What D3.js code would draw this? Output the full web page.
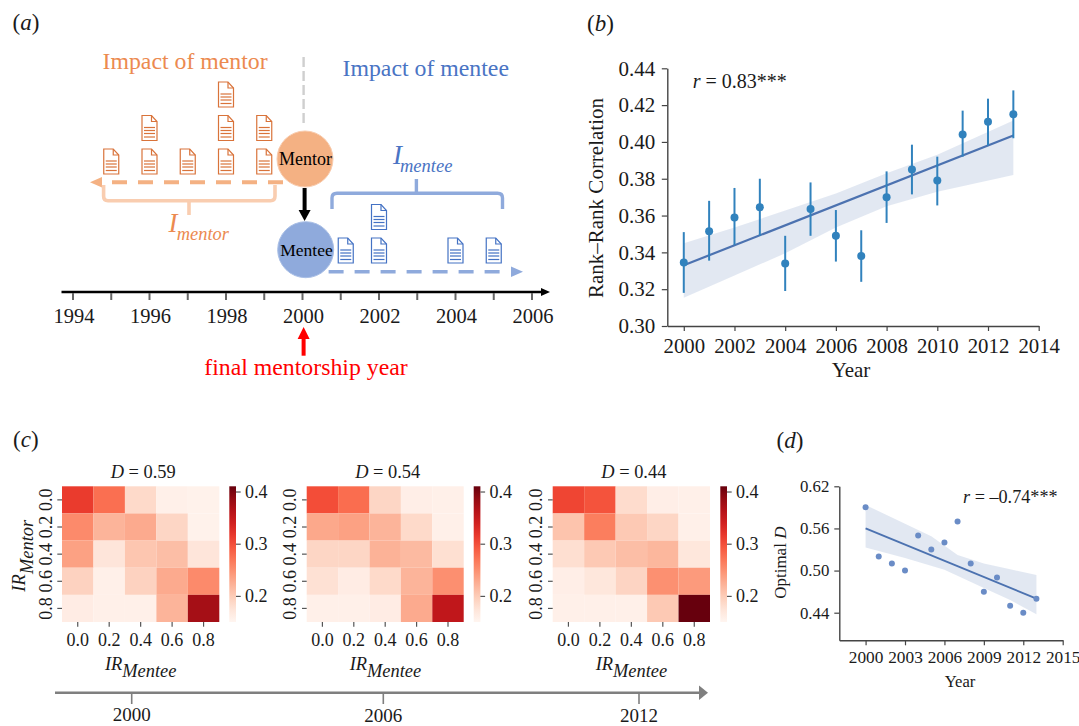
<!DOCTYPE html>
<html>
<head>
<meta charset="utf-8">
<script src="https://cdn.jsdelivr.net/npm/d3@7"></script>
<style>
  html, body { margin: 0; padding: 0; background: #fff; }
  svg { display: block; }
  text { font-family: "Liberation Serif", serif; fill: #1a1a1a; }
</style>
</head>
<body>
<svg id="chart" width="1079" height="726"></svg>
<script>
// Panel a
const timelineYears = d3.range(1994, 2007);
const timelineLabels = [1994, 1996, 1998, 2000, 2002, 2004, 2006];
const mentorPaperYears = [1995, 1996, 1997, 1998, 1999];
const mentorPaperCounts = [1, 2, 1, 3, 2];
const menteePaperYears = [2001, 2002, 2004, 2005];
const menteePaperCounts = [1, 2, 1, 1];

// Panel b
const yearsB = [2000, 2001, 2002, 2003, 2004, 2005, 2006, 2007, 2008, 2009, 2010, 2011, 2012, 2013];
const corrB = [0.3345, 0.3515, 0.359, 0.3645, 0.334, 0.3635, 0.349, 0.338, 0.37, 0.385, 0.379, 0.404, 0.411, 0.415];
const corrLowB = [0.318, 0.3355, 0.344, 0.349, 0.319, 0.349, 0.335, 0.324, 0.356, 0.3715, 0.3655, 0.392, 0.398, 0.402];
const corrHighB = [0.351, 0.368, 0.375, 0.38, 0.349, 0.378, 0.363, 0.352, 0.384, 0.3985, 0.392, 0.417, 0.4235, 0.428];
const fitYearsB = [2000, 2013];
const fitValuesB = [0.333, 0.4035];
const bandYearsB = [2000, 2002, 2004, 2006, 2008, 2010, 2013];
const bandHighB = [0.345, 0.3535, 0.3627, 0.372, 0.383, 0.393, 0.4116];
const bandLowB = [0.3154, 0.3275, 0.3395, 0.3535, 0.365, 0.373, 0.382];
const xTicksB = [2000, 2002, 2004, 2006, 2008, 2010, 2012, 2014];
const yTicksB = [0.30, 0.32, 0.34, 0.36, 0.38, 0.40, 0.42, 0.44];

// Panel c
const irLabels = ["0.0", "0.2", "0.4", "0.6", "0.8"];
const heatTitles = ["0.59", "0.54", "0.44"];
const heat2000 = [
  [0.314, 0.275, 0.186, 0.158, 0.155],
  [0.254, 0.220, 0.228, 0.190, 0.155],
  [0.236, 0.173, 0.205, 0.212, 0.173],
  [0.194, 0.158, 0.194, 0.228, 0.254],
  [0.163, 0.158, 0.158, 0.220, 0.375]
];
const heat2006 = [
  [0.300, 0.277, 0.190, 0.160, 0.158],
  [0.230, 0.236, 0.220, 0.186, 0.158],
  [0.190, 0.190, 0.222, 0.215, 0.180],
  [0.178, 0.163, 0.186, 0.220, 0.250],
  [0.158, 0.158, 0.163, 0.228, 0.354]
];
const heat2012 = [
  [0.306, 0.296, 0.184, 0.160, 0.158],
  [0.207, 0.264, 0.202, 0.190, 0.158],
  [0.181, 0.202, 0.212, 0.218, 0.171],
  [0.160, 0.171, 0.192, 0.249, 0.241],
  [0.158, 0.158, 0.158, 0.202, 0.410]
];
const colorTicks = [0.2, 0.3, 0.4];
const arrowYears = [2000, 2006, 2012];

// Panel d
const yearsD = [2000, 2001, 2002, 2003, 2004, 2005, 2006, 2007, 2008, 2009, 2010, 2011, 2012, 2013];
const optimalD = [0.59, 0.52, 0.51, 0.50, 0.55, 0.53, 0.54, 0.57, 0.51, 0.47, 0.49, 0.45, 0.44, 0.46];
const fitYearsD = [2000, 2013];
const fitValuesD = [0.56, 0.46];
const bandYearsHighD = [2000, 2005, 2007, 2009, 2011, 2013];
const bandHighD = [0.5934, 0.549, 0.522, 0.51, 0.502, 0.4937];
const bandYearsLowD = [2000, 2003, 2006, 2009, 2011, 2013];
const bandLowD = [0.533, 0.518, 0.501, 0.475, 0.458, 0.4377];
const xTicksD = [2000, 2003, 2006, 2009, 2012, 2015];
const yTicksD = [0.44, 0.50, 0.56, 0.62];

const svg = d3.select("#chart");
svg.append("rect").attr("width", 1079).attr("height", 726).attr("fill", "#fff");
const defs = svg.append("defs");

const ORANGE = "#ec8a50", ORANGE_FILL = "#f4b183", ORANGE_PALE = "#f9cdb0", ORANGE_DOC = "#d9733a";
const BLUE = "#4a74c4", BLUE_FILL = "#8faadc", BLUE_DOC = "#4472c4";
const AXIS = "#444";

function label(x, y, str, size, opts = {}) {
  const t = svg.append("text")
    .attr("x", x).attr("y", y)
    .attr("font-size", size)
    .attr("text-anchor", opts.anchor || "start")
    .style("fill", opts.color || "#1a1a1a")
    .style("font-style", opts.italic ? "italic" : "normal");
  if (opts.rotate) t.attr("transform", `rotate(-90 ${x} ${y})`);
  t.text(str);
  return t;
}

// text with italic parts, e.g. "r = 0.83***"
function mixedLabel(x, y, parts, size, opts = {}) {
  const t = svg.append("text").attr("x", x).attr("y", y)
    .attr("font-size", size)
    .attr("text-anchor", opts.anchor || "start");
  if (opts.rotate) t.attr("transform", `rotate(-90 ${x} ${y})`);
  parts.forEach(p => {
    t.append("tspan").style("font-style", p[1] ? "italic" : "normal").text(p[0]);
  });
}

function styleAxis(g, size, color = AXIS) {
  g.selectAll("text")
    .attr("font-size", size)
    .style("font-family", '"Liberation Serif", serif')
    .style("fill", "#1a1a1a");
  g.selectAll("line").attr("stroke", color).attr("stroke-width", 1.2);
  g.selectAll(".domain").attr("stroke", color).attr("stroke-width", 1.4);
}

mixedLabel(12.5, 30, [["(", 0], ["a", 1], [")", 0]], 23);
mixedLabel(587, 30.5, [["(", 0], ["b", 1], [")", 0]], 23);
mixedLabel(13, 446.5, [["(", 0], ["c", 1], [")", 0]], 23);
mixedLabel(776.5, 447.5, [["(", 0], ["d", 1], [")", 0]], 23);

// ---------- Panel a ----------
const xTime = d3.scaleLinear().domain([1994, 2006]).range([73, 532]);
const timelineY = 292;

svg.append("line")
  .attr("x1", 61.5).attr("x2", 544).attr("y1", timelineY).attr("y2", timelineY)
  .attr("stroke", "#000").attr("stroke-width", 2.6);
svg.append("path")
  .attr("d", `M541,${timelineY - 4}L550,${timelineY}L541,${timelineY + 4}Z`)
  .attr("fill", "#000");

svg.selectAll(".tl-tick")
  .data(timelineYears)
  .enter()
  .append("line")
    .attr("class", "tl-tick")
    .attr("x1", d => xTime(d)).attr("x2", d => xTime(d))
    .attr("y1", timelineY + 1).attr("y2", timelineY + 8)
    .attr("stroke", "#666").attr("stroke-width", 2);

svg.selectAll(".tl-label")
  .data(timelineLabels)
  .enter()
  .append("text")
    .attr("class", "tl-label")
    .attr("x", d => xTime(d) + 1)
    .attr("y", 323)
    .attr("text-anchor", "middle")
    .attr("font-size", 20.5)
    .text(d => d);

label(102.5, 69, "Impact of mentor", 23.8, { color: ORANGE });
label(342.5, 76, "Impact of mentee", 23.8, { color: BLUE });

svg.append("line")
  .attr("x1", 303.6).attr("x2", 303.6).attr("y1", 57).attr("y2", 127)
  .attr("stroke", "#cfcfcf").attr("stroke-width", 2.4).attr("stroke-dasharray", "10 4");

// Document icons, stacked by paper count
function drawDocs(years, counts, top, color) {
  const docs = [];
  years.forEach((year, i) => {
    d3.range(counts[i]).forEach(k => docs.push({ year, k }));
  });
  const g = svg.append("g")
    .selectAll("g")
    .data(docs)
    .enter()
    .append("g")
      // the 2001 icon sits a little right of its tick, clear of the circle
      .attr("transform", d => `translate(${xTime(d.year) - 7.5 + (d.year === 2001 ? 5 : 0)},${top - d.k * 33.5})`)
      .attr("fill", "none")
      .attr("stroke", color)
      .attr("stroke-width", 1.2);
  g.append("path").attr("d", "M0,0H9.5L15,6V25H0Z").attr("fill", "#fff");
  g.append("path").attr("d", "M9.5,0V6H15");
  g.selectAll("line")
    .data([12, 15, 18, 21.5])
    .enter()
    .append("line")
      .attr("x1", 2).attr("x2", 13)
      .attr("y1", d => d).attr("y2", d => d);
}
drawDocs(mentorPaperYears, mentorPaperCounts, 149, ORANGE_DOC);
drawDocs(menteePaperYears, menteePaperCounts, 238, BLUE_DOC);

// Dashed arrows
svg.append("line")
  .attr("x1", 283).attr("x2", 112).attr("y1", 182.3).attr("y2", 182.3)
  .attr("stroke", ORANGE_FILL).attr("stroke-width", 4).attr("stroke-dasharray", "15 11");
svg.append("path").attr("d", "M90,182.3L102,177L102,187.6Z").attr("fill", ORANGE_FILL);
svg.append("line")
  .attr("x1", 328.6).attr("x2", 509).attr("y1", 271.7).attr("y2", 271.7)
  .attr("stroke", BLUE_FILL).attr("stroke-width", 3.6).attr("stroke-dasharray", "15 11");
svg.append("path").attr("d", "M523,271.7L511,266.4L511,277Z").attr("fill", BLUE_FILL);

// Braces
svg.append("path")
  .attr("d", "M103.6,185V196Q103.6,200.7 108,200.7H270.5Q275,200.7 275,196V185M189,200.7V215")
  .attr("fill", "none").attr("stroke", ORANGE_PALE).attr("stroke-width", 3.6);
svg.append("path")
  .attr("d", "M332,209V198Q332,193.3 337,193.3H497.5Q502.5,193.3 502.5,198V209M416.4,193.3V179")
  .attr("fill", "none").attr("stroke", BLUE_FILL).attr("stroke-width", 3.4);

label(168.5, 231.5, "I", 27, { color: ORANGE, italic: true });
label(176.8, 240, "mentor", 18.4, { color: ORANGE, italic: true });
label(393, 164, "I", 27, { color: BLUE, italic: true });
label(400, 171.7, "mentee", 18.5, { color: BLUE, italic: true });

// Circles
svg.append("line")
  .attr("x1", 304.6).attr("x2", 304.6).attr("y1", 188).attr("y2", 212)
  .attr("stroke", "#000").attr("stroke-width", 4);
svg.append("path").attr("d", "M298.6,210L304.6,221L310.6,210Z").attr("fill", "#000");
svg.append("circle").attr("cx", 305).attr("cy", 159).attr("r", 28)
  .attr("fill", ORANGE_FILL).attr("stroke", "#f8cbad").attr("stroke-width", 1);
svg.append("circle").attr("cx", 305.7).attr("cy", 249.7).attr("r", 28)
  .attr("fill", BLUE_FILL).attr("stroke", "#a9bfe6").attr("stroke-width", 1);
label(305.5, 164.5, "Mentor", 18, { anchor: "middle", color: "#000" });
label(306.5, 255.5, "Mentee", 17.5, { anchor: "middle", color: "#000" });

// Red arrow
svg.append("line")
  .attr("x1", 303.6).attr("x2", 303.6).attr("y1", 355.7).attr("y2", 337)
  .attr("stroke", "#f00").attr("stroke-width", 4);
svg.append("path").attr("d", "M297.6,339L303.6,327L309.6,339Z").attr("fill", "#f00");
label(306, 375, "final mentorship year", 23.8, { anchor: "middle", color: "#f00" });

// ---------- Panel b ----------
const xB = d3.scaleLinear().domain([1999.35, 2014]).range([667.3, 1038.7]);
const yB = d3.scaleLinear().domain([0.30, 0.44]).range([326, 68.3]);

const bandB = bandYearsB.map((year, i) => ({ year, lo: bandLowB[i], hi: bandHighB[i] }));
svg.append("path")
  .datum(bandB)
  .attr("fill", "#4c72b0").attr("fill-opacity", 0.16)
  .attr("d", d3.area().x(d => xB(d.year)).y0(d => yB(d.lo)).y1(d => yB(d.hi)));

svg.append("path")
  .datum(fitYearsB.map((year, i) => ({ year, v: fitValuesB[i] })))
  .attr("fill", "none").attr("stroke", "#4c72b0").attr("stroke-width", 2.2)
  .attr("d", d3.line().x(d => xB(d.year)).y(d => yB(d.v)));

svg.selectAll(".err-b")
  .data(yearsB)
  .enter()
  .append("line")
    .attr("class", "err-b")
    .attr("x1", d => xB(d)).attr("x2", d => xB(d))
    .attr("y1", (d, i) => yB(corrLowB[i])).attr("y2", (d, i) => yB(corrHighB[i]))
    .attr("stroke", "#3182bd").attr("stroke-width", 2);

svg.selectAll(".dot-b")
  .data(yearsB)
  .enter()
  .append("circle")
    .attr("class", "dot-b")
    .attr("cx", d => xB(d)).attr("cy", (d, i) => yB(corrB[i]))
    .attr("r", 4).attr("fill", "#3182bd");

svg.append("g")
  .attr("transform", "translate(0,326)")
  .call(d3.axisBottom(xB).tickValues(xTicksB).tickFormat(d3.format("d")).tickSize(5).tickSizeOuter(0).tickPadding(7))
  .call(g => styleAxis(g, 20.8));
svg.append("g")
  .attr("transform", "translate(667.3,0)")
  .call(d3.axisLeft(yB).tickValues(yTicksB).tickFormat(d3.format(".2f")).tickSize(5.5).tickSizeOuter(0).tickPadding(6.5))
  .call(g => styleAxis(g, 21));

label(851, 376.7, "Year", 21, { anchor: "middle" });
label(603.3, 198, "Rank–Rank Correlation", 21, { anchor: "middle", rotate: true });
mixedLabel(692.7, 88.3, [["r", 1], [" = 0.83***", 0]], 20);

// ---------- Panel c ----------
const heatColor = d3.scaleSequential(d3.interpolateReds).domain([0.15, 0.41]);
const heatTop = 486.3, heatBottom = 622;
const heatPanels = [
  { matrix: heat2000, x0: 62, x1: 219.3, barX: 229.3, title: heatTitles[0], id: "bar1" },
  { matrix: heat2006, x0: 306.7, x1: 463.7, barX: 473.7, title: heatTitles[1], id: "bar2" },
  { matrix: heat2012, x0: 552.7, x1: 710, barX: 720.3, title: heatTitles[2], id: "bar3" }
];

// Same gradient for every colorbar
const n = 12;
const [cMin, cMax] = heatColor.domain();
const grad = defs.append("linearGradient")
  .attr("id", "heat-gradient")
  .attr("x1", "0%").attr("y1", "100%")
  .attr("x2", "0%").attr("y2", "0%");
grad.selectAll("stop")
  .data(d3.range(n).map(i => cMin + (cMax - cMin) * i / (n - 1)))
  .enter()
  .append("stop")
    .attr("offset", (d, i) => `${100 * i / (n - 1)}%`)
    .attr("stop-color", d => heatColor(d));

heatPanels.forEach((p, idx) => {
  const x = d3.scaleBand().domain(irLabels).range([p.x0, p.x1]);
  const y = d3.scaleBand().domain(irLabels).range([heatTop, heatBottom]);

  const cells = [];
  p.matrix.forEach((row, r) => row.forEach((value, c) => {
    cells.push({ mentor: irLabels[r], mentee: irLabels[c], value });
  }));

  svg.append("g")
    .selectAll("rect")
    .data(cells)
    .enter()
    .append("rect")
      .attr("x", d => x(d.mentee))
      .attr("y", d => y(d.mentor))
      .attr("width", x.bandwidth())
      .attr("height", y.bandwidth())
      .attr("fill", d => heatColor(d.value));

  svg.append("g")
    .attr("transform", `translate(0,${heatBottom})`)
    .call(d3.axisBottom(x).tickSize(4.7).tickPadding(6.9))
    .call(g => g.select(".domain").remove())
    .call(g => styleAxis(g, 18, "#555"));

  svg.append("g")
    .attr("transform", `translate(${p.x0},0)`)
    .call(d3.axisLeft(y).tickSize(4.7))
    .call(g => g.select(".domain").remove())
    .call(g => styleAxis(g, 18, "#555"))
    .selectAll("text")
      .attr("transform", "rotate(-90)")
      .attr("x", 0).attr("y", -10.3).attr("dy", 0)
      .attr("text-anchor", "middle");

  // Colorbar
  svg.append("rect")
    .attr("x", p.barX).attr("y", heatTop)
    .attr("width", 6.7).attr("height", heatBottom - heatTop)
    .style("fill", "url(#heat-gradient)");
  const barScale = d3.scaleLinear().domain(heatColor.domain()).range([heatBottom, heatTop]);
  svg.append("g")
    .attr("transform", `translate(${p.barX + 6.7},0)`)
    .call(d3.axisRight(barScale).tickValues(colorTicks).tickFormat(d3.format(".1f")).tickSize(4.7).tickPadding(4.3))
    .call(g => g.select(".domain").remove())
    .call(g => styleAxis(g, 18, "#555"));

  mixedLabel((p.x0 + p.x1) / 2 + 2.5, 478, [["D", 1], [" = " + p.title, 0]], 18.4, { anchor: "middle" });
  label(p.x0 + 43, 670, "IR", 18.4, { italic: true });
  label(p.x0 + 60.3, 677.3, "Mentee", 18.4, { italic: true });
});

label(25, 591.7, "IR", 18.4, { italic: true, rotate: true });
label(32.7, 574, "Mentor", 18.4, { italic: true, rotate: true });

// Time arrow under the heatmaps
const xArrow = d3.scaleLinear().domain(arrowYears).range([131.7, 383.3, 639]);
svg.append("line")
  .attr("x1", 55).attr("x2", 700).attr("y1", 692.7).attr("y2", 692.7)
  .attr("stroke", "#7f7f7f").attr("stroke-width", 2.4);
svg.append("path").attr("d", "M699,685.5L708,692.7L699,699.9Z").attr("fill", "#7f7f7f");
svg.selectAll(".arrow-tick")
  .data(arrowYears)
  .enter()
  .append("line")
    .attr("class", "arrow-tick")
    .attr("x1", d => xArrow(d)).attr("x2", d => xArrow(d))
    .attr("y1", 692.7).attr("y2", 704)
    .attr("stroke", "#7f7f7f").attr("stroke-width", 1.6);
svg.selectAll(".arrow-label")
  .data(arrowYears)
  .enter()
  .append("text")
    .attr("class", "arrow-label")
    .attr("x", d => xArrow(d))
    .attr("y", (d, i) => [721, 721.8, 721.8][i])
    .attr("text-anchor", "middle")
    .attr("font-size", 19)
    .text(d => d);

// ---------- Panel d ----------
const xD = d3.scaleLinear().domain([1998, 2015]).range([839.3, 1062.7]);
const yD = d3.scaleLinear().domain([0.4007, 0.62]).range([640.3, 486.3]);

svg.append("path")
  .attr("d", () => {
    const hi = bandYearsHighD.map((year, i) => [xD(year), yD(bandHighD[i])]);
    const lo = bandYearsLowD.map((year, i) => [xD(year), yD(bandLowD[i])]).reverse();
    return d3.line()(hi.concat(lo)) + "Z";
  })
  .attr("fill", "#4c72b0").attr("fill-opacity", 0.16);

svg.append("path")
  .datum(fitYearsD.map((year, i) => ({ year, v: fitValuesD[i] })))
  .attr("fill", "none").attr("stroke", "#4c72b0").attr("stroke-width", 1.9)
  .attr("d", d3.line().x(d => xD(d.year)).y(d => yD(d.v)));

svg.selectAll(".dot-d")
  .data(yearsD)
  .enter()
  .append("circle")
    .attr("class", "dot-d")
    .attr("cx", d => xD(d)).attr("cy", (d, i) => yD(optimalD[i]))
    .attr("r", 3).attr("fill", "#6a8cc6");

svg.append("g")
  .attr("transform", "translate(0,640.3)")
  .call(d3.axisBottom(xD).tickValues(xTicksD).tickFormat(d3.format("d")).tickSize(5).tickSizeOuter(0).tickPadding(5))
  .call(g => styleAxis(g, 17.3));
svg.append("g")
  .attr("transform", "translate(839.3,0)")
  .call(d3.axisLeft(yD).tickValues(yTicksD).tickFormat(d3.format(".2f")).tickSize(5).tickSizeOuter(0).tickPadding(5))
  .call(g => styleAxis(g, 16.8));

label(960, 686.7, "Year", 16.6, { anchor: "middle" });
mixedLabel(785.7, 562.7, [["Optimal ", 0], ["D", 1]], 17, { anchor: "middle", rotate: true });
mixedLabel(963, 503, [["r", 1], [" = –0.74***", 0]], 18.2);
</script>
</body>
</html>
